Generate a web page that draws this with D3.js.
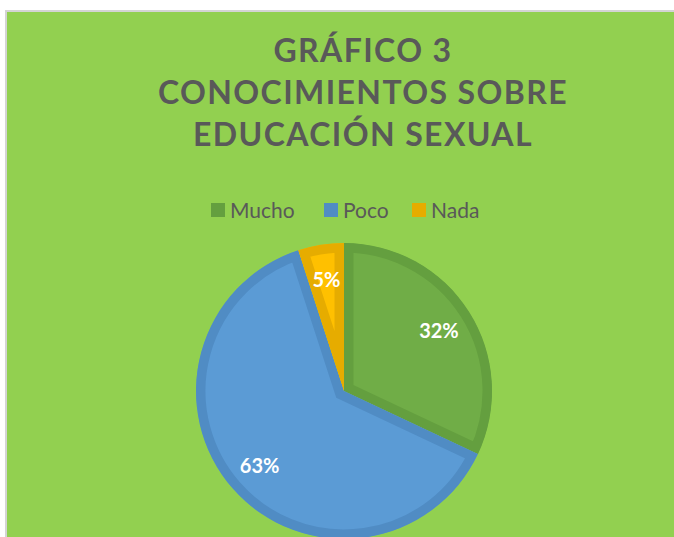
<!DOCTYPE html>
<html>
<head>
<meta charset="utf-8">
<script src="https://cdn.jsdelivr.net/npm/d3@7"></script>
<style>
  html, body { margin: 0; padding: 0; background: #fff; }
  svg { display: block; }
</style>
</head>
<body>
<div id="chart"></div>
<script>
// chart data
const categories = ["Mucho", "Poco", "Nada"];
const values = [32, 63, 5];
const fillColors = ["#70ad47", "#5b9bd5", "#ffc000"];
const borderColors = ["#649f3f", "#508cc4", "#e6ac00"];
const titleLines = ["GRÁFICO 3", "CONOCIMIENTOS SOBRE", "EDUCACIÓN SEXUAL"];

const width = 674;
const height = 537;
const centerX = 344;
const centerY = 391;
const radius = 148;
const border = 9.5;

const svg = d3.select("#chart").append("svg")
    .attr("width", width)
    .attr("height", height);

// chart area background
svg.append("rect")
    .attr("x", 6)
    .attr("y", 11)
    .attr("width", width + 20)
    .attr("height", height + 20)
    .attr("fill", "#92d050")
    .attr("stroke", "#d4d4d4")
    .attr("stroke-width", 2);

// title
svg.append("text")
    .attr("text-anchor", "middle")
    .attr("font-family", "Lato, 'Open Sans', sans-serif")
    .attr("font-weight", "700")
    .attr("font-size", 32)
    .attr("letter-spacing", 1.4)
    .attr("fill", "#595959")
    .selectAll("tspan")
    .data(titleLines)
    .join("tspan")
    .attr("x", 363)
    .attr("y", (d, i) => 62 + i * 42)
    .text(d => d);

// legend
const legendX = [211, 324, 412];
const legend = svg.append("g")
    .selectAll("g")
    .data(categories)
    .join("g")
    .attr("transform", (d, i) => `translate(${legendX[i]},203)`);

legend.append("rect")
    .attr("width", 14)
    .attr("height", 14)
    .attr("fill", (d, i) => borderColors[i]);

legend.append("text")
    .attr("x", 19)
    .attr("y", 14.5)
    .attr("font-family", "Lato, 'Open Sans', sans-serif")
    .attr("font-size", 21)
    .attr("fill", "#595959")
    .text(d => d);

// pie
const pie = d3.pie().sort(null).value(d => d);
const arcs = pie(values);
const arc = d3.arc().innerRadius(0).outerRadius(radius);
const labelArc = d3.arc().innerRadius(radius * 0.76).outerRadius(radius * 0.76);

const g = svg.append("g")
    .attr("transform", `translate(${centerX},${centerY})`);

const defs = svg.append("defs");
arcs.forEach((a, i) => {
    defs.append("clipPath")
        .attr("id", `slice-clip-${i}`)
        .append("path")
        .attr("d", arc(a));
});

// slices with inner border
g.selectAll("path.slice")
    .data(arcs)
    .join("path")
    .attr("class", "slice")
    .attr("d", arc)
    .attr("fill", (d, i) => fillColors[i])
    .attr("stroke", (d, i) => borderColors[i])
    .attr("stroke-width", border * 2)
    .attr("stroke-linejoin", "miter")
    .attr("clip-path", (d, i) => `url(#slice-clip-${i})`);

// data labels
const total = d3.sum(values);
g.selectAll("text.label")
    .data(arcs)
    .join("text")
    .attr("class", "label")
    .attr("transform", d => `translate(${labelArc.centroid(d)})`)
    .attr("text-anchor", "middle")
    .attr("dy", "0.36em")
    .attr("font-family", "Lato, 'Open Sans', sans-serif")
    .attr("font-weight", "700")
    .attr("font-size", 20)
    .attr("fill", "#ffffff")
    .text(d => Math.round(d.data / total * 100) + "%");
</script>
</body>
</html>
